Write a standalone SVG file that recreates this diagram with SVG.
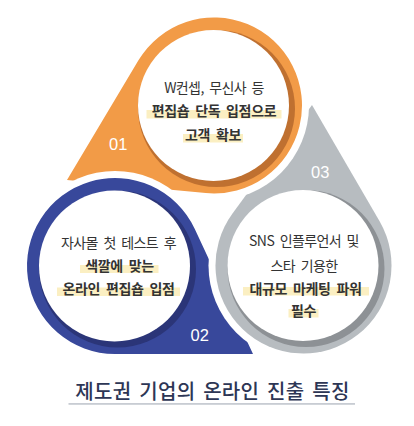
<svg xmlns="http://www.w3.org/2000/svg" width="414" height="426" viewBox="0 0 414 426">
<style>
.t{font-family:"Noto Sans CJK KR","Noto Sans",sans-serif;font-size:14px;fill:#333;text-anchor:middle;letter-spacing:-0.6px;word-spacing:3px}
.b{font-weight:700;letter-spacing:-0.35px}
.hl{fill:#fbefc2}
.lb{font-family:"Liberation Sans",Arial,sans-serif;font-size:16.5px;fill:#fff;text-anchor:middle}
.w{fill:#fff}
.title{font-family:"Noto Sans CJK KR","Noto Sans",sans-serif;font-size:20px;font-weight:500;fill:#2d3655;text-anchor:middle;letter-spacing:0.3px;word-spacing:3px}
</style>
<defs>
<mask id="m-o" maskUnits="userSpaceOnUse" x="0" y="0" width="414" height="426"><rect width="414" height="426" fill="#fff"/><circle cx="115" cy="266" r="95" fill="#000"/></mask>
<mask id="m-b" maskUnits="userSpaceOnUse" x="0" y="0" width="414" height="426"><rect width="414" height="426" fill="#fff"/><circle cx="303.5" cy="265.5" r="95" fill="#000"/></mask>
<mask id="m-g" maskUnits="userSpaceOnUse" x="0" y="0" width="414" height="426"><rect width="414" height="426" fill="#fff"/><circle cx="214" cy="105.5" r="95" fill="#000"/></mask>
</defs>
<rect width="414" height="426" fill="#fff"/>

<g id="node-01">
<path d="M67 180 L205.73 193.11 A88 88 0 1 0 138.45 60.37 Z" fill="#f29b47" mask="url(#m-o)"/>
<circle cx="216.5" cy="108.5" r="78.5" fill="#bf7030"/>
<circle cx="213.5" cy="105.5" r="75.5" class="w"/>
<rect class="hl" x="146.5" y="110" width="135" height="8.5"/>
<rect class="hl" x="183" y="134" width="60" height="8.5"/>
<text class="t" x="214" y="92.5">W컨셉, 무신사 등</text>
<text class="t b" x="214" y="116">편집숍 단독 입점으로</text>
<text class="t b" x="213" y="140">고객 확보</text>
<text class="lb" x="118.3" y="150">01</text>
</g>

<g id="node-02">
<path d="M253 354 L115 354 A88 88 0 1 1 194.79 228.89 Z" fill="#38489b" mask="url(#m-b)"/>
<circle cx="117.5" cy="269" r="78.5" fill="#2b3578"/>
<circle cx="114.5" cy="266" r="75.5" class="w"/>
<rect class="hl" x="80" y="265" width="78.5" height="8"/>
<rect class="hl" x="57" y="287.5" width="123" height="8.5"/>
<text class="t" x="118.5" y="248">자사몰 첫 테스트 후</text>
<text class="t b" x="119.5" y="271">색깔에 맞는</text>
<text class="t b" x="118.5" y="294">온라인 편집숍 입점</text>
<text class="lb" x="199.7" y="340.7">02</text>
</g>

<g id="node-03">
<path d="M312 105 L379.58 221.28 A88 88 0 1 1 232.51 213.48 Z" fill="#b7bcc0" mask="url(#m-g)"/>
<circle cx="306" cy="268.5" r="78.5" fill="#8d9195"/>
<circle cx="303" cy="265.5" r="75.5" class="w"/>
<rect class="hl" x="243" y="287" width="126" height="8.5"/>
<rect class="hl" x="288.5" y="309" width="30" height="8.5"/>
<text class="t" x="304" y="246">SNS 인플루언서 및</text>
<text class="t" x="304" y="271">스타 기용한</text>
<text class="t b" x="305.5" y="293.5">대규모 마케팅 파워</text>
<text class="t b" x="303.5" y="315.5">필수</text>
<text class="lb" x="320.3" y="178.3">03</text>
</g>

<g id="title">
<text class="title" x="212.5" y="398.5">제도권 기업의 온라인 진출 특징</text>
<rect x="68.5" y="403" width="286.5" height="1.8" fill="#c8ccd3"/>
</g>
</svg>
